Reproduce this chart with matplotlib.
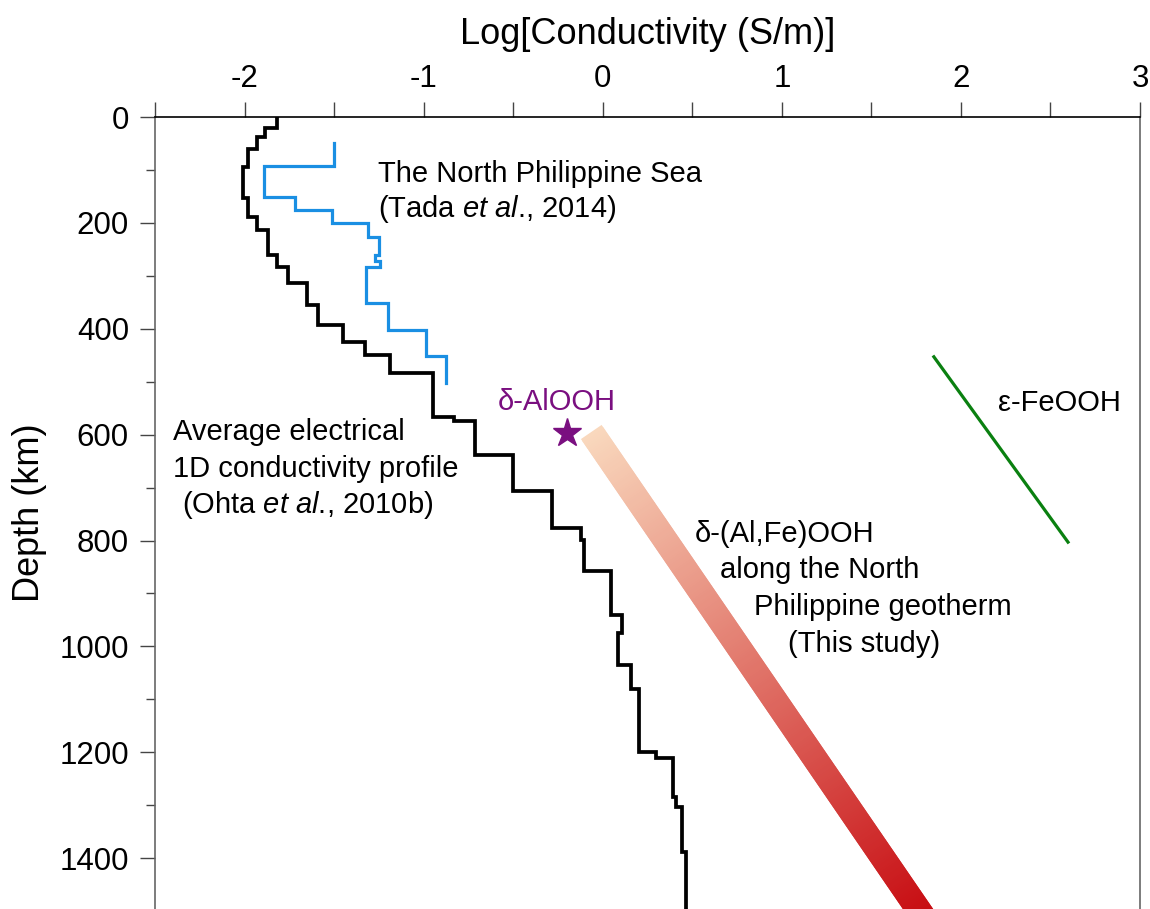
import matplotlib
matplotlib.use('Agg')
import matplotlib.pyplot as plt
import numpy as np
from matplotlib.collections import PolyCollection
from matplotlib.colors import LinearSegmentedColormap
from matplotlib.ticker import MultipleLocator

plt.rcParams['font.family'] = ['Liberation Sans', 'DejaVu Sans']
plt.rcParams['mathtext.fontset'] = 'custom'
plt.rcParams['mathtext.rm'] = 'Liberation Sans'
plt.rcParams['mathtext.it'] = 'Liberation Sans:italic'
plt.rcParams['axes.unicode_minus'] = False

# Average 1D conductivity profile (layer tops in km, log10 sigma per layer)
avg_depth = [0, 21, 37, 60, 94, 153, 189, 213, 261, 283, 314, 355, 393, 425, 450,
             484, 567, 574, 639, 707, 777, 799, 858, 940, 975, 1035, 1080, 1200,
             1210, 1284, 1303, 1388, 1500]
avg_logc = [-1.816, -1.888, -1.933, -1.983, -2.01, -1.983, -1.933, -1.87, -1.82,
            -1.76, -1.65, -1.59, -1.45, -1.33, -1.19, -0.95, -0.83, -0.715, -0.50,
            -0.285, -0.123, -0.106, 0.045, 0.108, 0.084, 0.16, 0.203, 0.30, 0.395,
            0.41, 0.44, 0.464]

# North Philippine Sea profile (Tada et al., 2014)
nps_depth = [49, 93, 151, 176, 200, 226, 261, 272, 283, 352, 402, 452, 503]
nps_logc = [-1.503, -1.89, -1.72, -1.514, -1.313, -1.25, -1.27, -1.245, -1.324,
            -1.20, -0.989, -0.877]

# delta-(Al,Fe)OOH along the geotherm (end points of the trend)
dfe_depth = [595, 1600]
dfe_logc = [-0.064, 1.971]

# epsilon-FeOOH
efe_depth = [453, 803]
efe_logc = [1.849, 2.598]

# delta-AlOOH single point
dal_depth = 597
dal_logc = -0.201


def step_profile(depth, logc):
    d = np.asarray(depth, dtype=float)
    c = np.asarray(logc, dtype=float)
    ys = np.repeat(d, 2)[1:-1]
    xs = np.repeat(c, 2)
    return xs, ys


fig = plt.figure(figsize=(11.5, 9.09), dpi=100)
ax = fig.add_axes([155 / 1150, 0, 985 / 1150, 792 / 909])
ax.set_xlim(-2.5, 3)
ax.set_ylim(1496, 0)

# gradient band: short quads of constant width in screen space
n = 300
t = np.linspace(0, 1, n + 1)
bx = dfe_logc[0] + (dfe_logc[1] - dfe_logc[0]) * t
by = dfe_depth[0] + (dfe_depth[1] - dfe_depth[0]) * t
pix = ax.transData.transform(np.column_stack([bx, by]))
d = pix[-1] - pix[0]
d = d / np.hypot(d[0], d[1])
nrm = np.array([-d[1], d[0]])
hw = 18 * fig.dpi / 72 / 2
inv = ax.transData.inverted()
quads = []
for i in range(n):
    j = min(i + 2, n)
    corners = np.array([pix[i] + nrm * hw, pix[j] + nrm * hw,
                        pix[j] - nrm * hw, pix[i] - nrm * hw])
    quads.append(inv.transform(corners))
band_cmap = LinearSegmentedColormap.from_list('band', ['#f9d8bd', '#c80f14'])
frac = np.clip((by[:-1] - 595) / (1500 - 595), 0, 1)
pc = PolyCollection(quads, facecolors=band_cmap(frac), edgecolors='none', zorder=1)
ax.add_collection(pc)

xs, ys = step_profile(avg_depth, avg_logc)
ax.plot(xs, ys, color='black', lw=2.7, zorder=3, solid_joinstyle='miter')
xs, ys = step_profile(nps_depth, nps_logc)
ax.plot(xs, ys, color='#1a8fe3', lw=2.3, zorder=3, solid_joinstyle='miter')

ax.plot(efe_logc, efe_depth, color='#0a8010', lw=2.3, zorder=3)
ax.plot(dal_logc, dal_depth, marker='*', color='#7a0f80', ms=21, zorder=4)

fs = 21
ax.text(-1.257, 123, 'The North Philippine Sea', fontsize=fs)
ax.text(-1.257, 189, r'(Tada $\it{et\ al}$., 2014)', fontsize=fs)
ax.text(-2.402, 610, 'Average electrical', fontsize=fs)
ax.text(-2.402, 680, '1D conductivity profile', fontsize=fs)
ax.text(-2.352, 748, r'(Ohta $\it{et\ al}$., 2010b)', fontsize=fs)
ax.text(-0.587, 553, 'δ-AlOOH', fontsize=fs, color='#7a0f80')
ax.text(0.514, 803, 'δ-(Al,Fe)OOH', fontsize=fs)
ax.text(0.654, 871, 'along the North', fontsize=fs)
ax.text(0.844, 941, 'Philippine geotherm', fontsize=fs)
ax.text(1.034, 1011, '(This study)', fontsize=fs)
ax.text(2.207, 555, 'ε-FeOOH', fontsize=fs)

ax.xaxis.set_major_locator(MultipleLocator(1))
ax.xaxis.set_minor_locator(MultipleLocator(0.5))
ax.yaxis.set_major_locator(MultipleLocator(200))
ax.yaxis.set_minor_locator(MultipleLocator(100))
ax.xaxis.tick_top()
ax.xaxis.set_label_position('top')
ax.tick_params(axis='x', which='both', direction='out', length=10.8, width=1,
               color='#444444', labelsize=22.5, pad=6)
ax.tick_params(axis='y', which='major', direction='out', length=10.8, width=1,
               color='#444444', labelsize=22.5, pad=8)
ax.tick_params(axis='y', which='minor', direction='out', length=6.5, width=1,
               color='#444444')
ax.set_xlabel('Log[Conductivity (S/m)]', fontsize=26, labelpad=14)
ax.set_ylabel('Depth (km)', fontsize=26, labelpad=9)

ax.spines['bottom'].set_visible(False)
ax.spines['top'].set_color('black')
ax.spines['left'].set_color('#666666')
ax.spines['right'].set_color('#666666')
for s in ax.spines.values():
    s.set_linewidth(1.2)

fig.savefig('out.png', dpi=100)
